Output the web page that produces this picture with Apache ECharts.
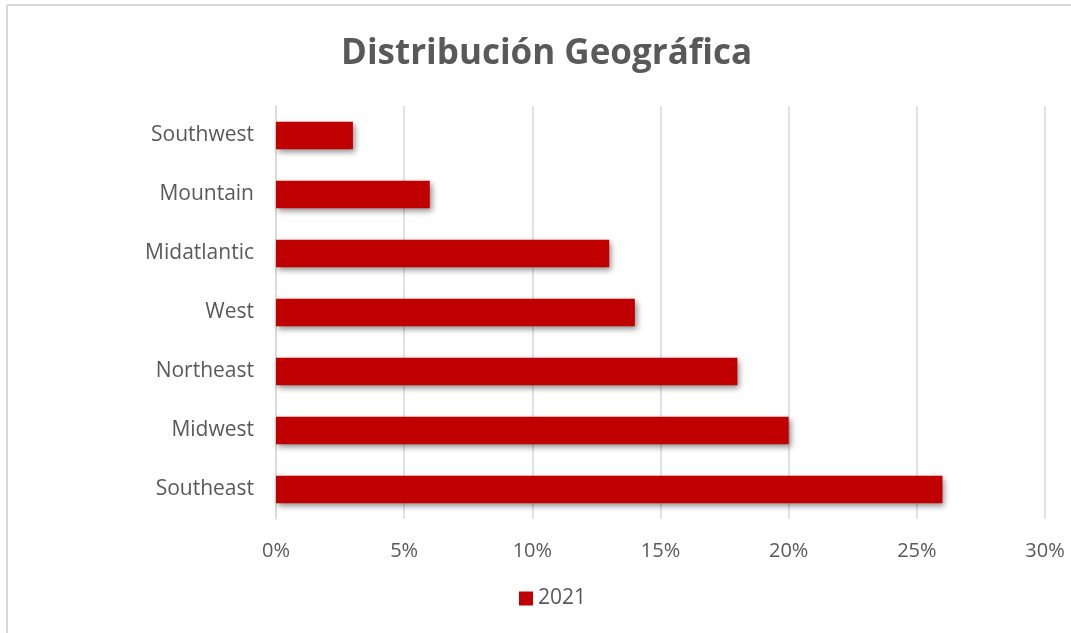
<!DOCTYPE html>
<html><head><meta charset="utf-8">
<script src="https://cdn.jsdelivr.net/npm/echarts@6/dist/echarts.min.js"></script>
<style>html,body{margin:0;padding:0;background:#fff;overflow:hidden}#c{width:1071px;height:633px}</style>
</head><body><div id="c"></div>
<script>
const categories = ['Southeast','Midwest','Northeast','West','Midatlantic','Mountain','Southwest'];
const values2021 = [26, 20, 18, 14, 13, 6, 3];
const seriesName = '2021';
const titleText = 'Distribución Geográfica';

const chart = echarts.init(document.getElementById('c'));
chart.setOption({
  animation: false,
  backgroundColor: '#fff',
  textStyle: { fontFamily: 'Open Sans' },
  graphic: [
    { type: 'line', shape: { x1: 7, y1: 5, x2: 1071, y2: 5 }, style: { stroke: '#d9d9d9', lineWidth: 2 }, silent: true },
    { type: 'line', shape: { x1: 7, y1: 5, x2: 7, y2: 633 }, style: { stroke: '#d9d9d9', lineWidth: 2 }, silent: true }
  ],
  title: { text: titleText, left: 336, top: 32, textStyle: { fontFamily: 'Open Sans', fontWeight: 'bold', fontSize: 35, color: '#595959' } },
  legend: { bottom: 19, left: 514, itemWidth: 14, itemHeight: 14, icon: 'rect', itemGap: 5, textStyle: { fontSize: 21, color: '#595959', fontFamily: 'Open Sans' }, data: [seriesName] },
  grid: { left: 276, right: 26, top: 106, bottom: 114 },
  xAxis: { type: 'value', min: 0, max: 30, interval: 5,
    axisLabel: { formatter: v => v + '%', fontSize: 20, color: '#595959', margin: 22 },
    splitLine: { lineStyle: { color: '#d9d9d9', width: 1.5 } },
    axisLine: { show: false }, axisTick: { show: false } },
  yAxis: { type: 'category', data: categories,
    axisLabel: { fontSize: 21, color: '#595959', margin: 22 },
    axisLine: { show: true, lineStyle: { color: '#d9d9d9', width: 1.5 } }, axisTick: { show: false } },
  series: [{ name: seriesName, type: 'bar', data: values2021, barWidth: '47%',
    itemStyle: { color: '#c00000', shadowColor: 'rgba(0,0,0,0.45)', shadowBlur: 6, shadowOffsetX: 2, shadowOffsetY: 3 } }]
});
</script></body></html>
